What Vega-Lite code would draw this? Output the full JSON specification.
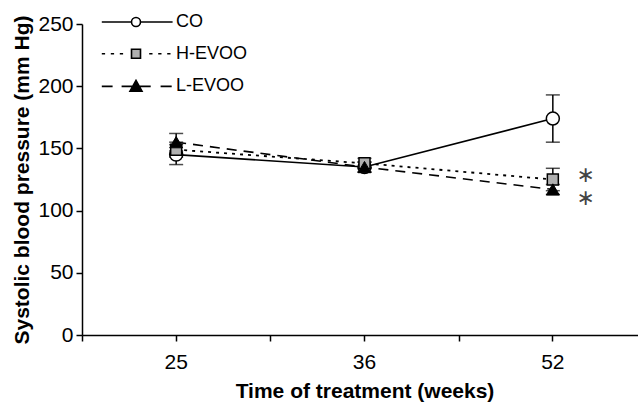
{
  "$schema": "https://vega.github.io/schema/vega-lite/v6.json",
  "width": 556,
  "height": 311,
  "autosize": {"type": "none"},
  "padding": {"left": 82, "top": 24, "right": 0, "bottom": 67},
  "background": "white",
  "config": {
    "view": {"stroke": null},
    "font": "Liberation Sans",
    "axis": {"domainColor": "#000", "tickColor": "#000", "labelColor": "#000", "titleColor": "#000", "domainWidth": 1.5, "tickWidth": 1.5, "grid": false, "labelFont": "Liberation Sans", "titleFont": "Liberation Sans"}
  },
  "datasets": {
    "stats": [
      {"week": "25", "series": "CO", "mean": 145, "lo": 137, "hi": 153},
      {"week": "36", "series": "CO", "mean": 135, "lo": 131, "hi": 139},
      {"week": "52", "series": "CO", "mean": 174, "lo": 155, "hi": 193},
      {"week": "25", "series": "H-EVOO", "mean": 149, "lo": 143, "hi": 155},
      {"week": "36", "series": "H-EVOO", "mean": 138, "lo": 134, "hi": 142},
      {"week": "52", "series": "H-EVOO", "mean": 125, "lo": 116, "hi": 134},
      {"week": "25", "series": "L-EVOO", "mean": 155, "lo": 148, "hi": 162},
      {"week": "36", "series": "L-EVOO", "mean": 135, "lo": 131, "hi": 139},
      {"week": "52", "series": "L-EVOO", "mean": 117, "lo": 113, "hi": 121}
    ],
    "stars": [
      {"week": "52", "value": 129, "label": "∗"},
      {"week": "52", "value": 110, "label": "∗"}
    ]
  },
  "data": {"name": "stats"},
  "layer": [
    {
      "mark": {"type": "rule", "strokeWidth": 1.5, "color": "black"},
      "encoding": {
        "x": {
          "field": "week", "type": "ordinal", "sort": ["25", "36", "52"],
          "scale": {"range": [0, 565], "paddingInner": 0, "paddingOuter": 0},
          "axis": {"orient": "bottom", "title": "Time of treatment (weeks)", "labelAngle": 0, "labelFontSize": 21, "labelPadding": 10, "tickSize": 6, "tickBand": "center", "titleFontSize": 21, "titleFontWeight": "bold", "titlePadding": 8}
        },
        "y": {
          "field": "lo", "type": "quantitative",
          "scale": {"domain": [0, 250], "nice": false},
          "axis": {"values": [0, 50, 100, 150, 200, 250], "labelFontSize": 21, "tickSize": 6, "labelPadding": 3, "title": "Systolic blood pressure (mm Hg)", "titleFontSize": 21, "titleFontWeight": "bold", "titlePadding": 5}
        },
        "y2": {"field": "hi"}
      }
    },
    {
      "mark": {"type": "tick", "size": 14, "thickness": 1.5, "color": "black"},
      "encoding": {
        "x": {"field": "week", "type": "ordinal", "sort": ["25", "36", "52"], "axis": null},
        "y": {"field": "lo", "type": "quantitative"}
      }
    },
    {
      "mark": {"type": "tick", "size": 14, "thickness": 1.5, "color": "black"},
      "encoding": {
        "x": {"field": "week", "type": "ordinal", "sort": ["25", "36", "52"], "axis": null},
        "y": {"field": "hi", "type": "quantitative"}
      }
    },
    {
      "transform": [{"filter": "datum.series === 'CO'"}],
      "mark": {"type": "line", "strokeWidth": 1.6, "color": "black"},
      "encoding": {
        "x": {"field": "week", "type": "ordinal", "sort": ["25", "36", "52"], "axis": {"orient": "bottom", "tickBand": "extent", "labels": false, "domain": false, "title": null, "tickSize": 6}},
        "y": {"field": "mean", "type": "quantitative"}
      }
    },
    {
      "transform": [{"filter": "datum.series === 'H-EVOO'"}],
      "mark": {"type": "line", "strokeWidth": 1.8, "color": "black", "strokeDash": [3, 5]},
      "encoding": {
        "x": {"field": "week", "type": "ordinal", "sort": ["25", "36", "52"], "axis": null},
        "y": {"field": "mean", "type": "quantitative"}
      }
    },
    {
      "transform": [{"filter": "datum.series === 'L-EVOO'"}],
      "mark": {"type": "line", "strokeWidth": 1.6, "color": "black", "strokeDash": [10, 7]},
      "encoding": {
        "x": {"field": "week", "type": "ordinal", "sort": ["25", "36", "52"], "axis": null},
        "y": {"field": "mean", "type": "quantitative"}
      }
    },
    {
      "transform": [{"filter": "datum.series === 'CO'"}],
      "mark": {"type": "point", "shape": "circle", "filled": true, "fill": "white", "stroke": "black", "strokeWidth": 1.5, "size": 169, "opacity": 1},
      "encoding": {
        "x": {"field": "week", "type": "ordinal", "sort": ["25", "36", "52"], "axis": null},
        "y": {"field": "mean", "type": "quantitative"}
      }
    },
    {
      "transform": [{"filter": "datum.series === 'H-EVOO'"}],
      "mark": {"type": "point", "shape": "square", "filled": true, "fill": "#b0b0b0", "stroke": "black", "strokeWidth": 1.5, "size": 121, "opacity": 1},
      "encoding": {
        "x": {"field": "week", "type": "ordinal", "sort": ["25", "36", "52"], "axis": null},
        "y": {"field": "mean", "type": "quantitative"}
      }
    },
    {
      "transform": [{"filter": "datum.series === 'L-EVOO'"}],
      "mark": {"type": "point", "shape": "triangle-up", "filled": true, "fill": "black", "stroke": "black", "strokeWidth": 1, "size": 169, "opacity": 1},
      "encoding": {
        "x": {"field": "week", "type": "ordinal", "sort": ["25", "36", "52"], "axis": null},
        "y": {"field": "mean", "type": "quantitative"}
      }
    },
    {
      "mark": {"type": "point", "filled": true, "opacity": 0, "stroke": "black"},
      "encoding": {
        "x": {"field": "week", "type": "ordinal", "sort": ["25", "36", "52"], "axis": null},
        "y": {"field": "mean", "type": "quantitative"},
        "shape": {
          "field": "series", "type": "nominal",
          "scale": {"domain": ["CO", "H-EVOO", "L-EVOO"], "range": [
            "M-5.7,0H-0.75M0.75,0H6.1M-0.75,0A0.75,0.75 0 1,0 0.75,0A0.75,0.75 0 1,0 -0.75,0Z",
            "M-5.7,0H-5.15M-4.2,0H-3.65M-2.7,0H-2.15M2.2,0H2.75M3.7,0H4.25M5.2,0H5.75M-0.75,-0.75H0.75V0.75H-0.75Z",
            "M-5.7,0H-3.9M-2.4,0H2.45M4.1,0H5.95M0,-1L1,0.8L-1,0.8Z"
          ]},
          "legend": {"orient": "none", "legendX": 45, "legendY": -11, "title": null, "symbolSize": 144, "symbolOpacity": 1, "labelFontSize": 18, "labelOffset": 31, "rowPadding": 13.7, "symbolStrokeWidth": 1.6, "symbolStrokeColor": "black", "labelColor": "black", "labelFont": "Liberation Sans", "encode": {"symbols": {"update": {"stroke": {"value": "black"}, "strokeWidth": {"value": 1.6}, "opacity": {"value": 1}}}}}
        },
        "fill": {
          "field": "series", "type": "nominal",
          "scale": {"domain": ["CO", "H-EVOO", "L-EVOO"], "range": ["white", "#b0b0b0", "black"]},
          "legend": {"orient": "none", "legendX": 45, "legendY": -11, "title": null, "symbolSize": 144, "symbolOpacity": 1, "labelFontSize": 18, "labelOffset": 31, "rowPadding": 13.7, "symbolStrokeWidth": 1.6, "symbolStrokeColor": "black", "labelColor": "black", "labelFont": "Liberation Sans", "encode": {"symbols": {"update": {"stroke": {"value": "black"}, "strokeWidth": {"value": 1.6}, "opacity": {"value": 1}}}}}
        }
      }
    },
    {
      "data": {"name": "stars"},
      "mark": {"type": "text", "dx": 33, "fontSize": 22, "color": "#444", "font": "DejaVu Sans", "baseline": "middle"},
      "encoding": {
        "x": {"field": "week", "type": "ordinal", "sort": ["25", "36", "52"], "axis": null},
        "y": {"field": "value", "type": "quantitative"},
        "text": {"field": "label"}
      }
    }
  ],
  "resolve": {"axis": {"x": "independent"}}
}
